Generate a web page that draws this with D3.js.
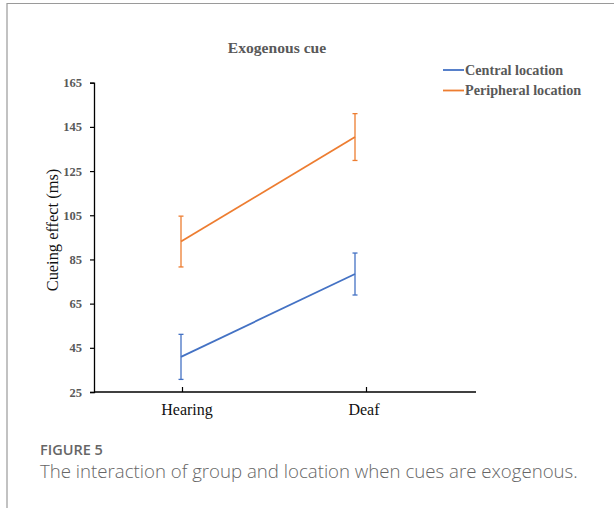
<!DOCTYPE html>
<html>
<head>
<meta charset="utf-8">
<script src="https://cdn.jsdelivr.net/npm/d3@7"></script>
<style>
  body { margin: 0; background: #fff; }
  svg { display: block; }
</style>
</head>
<body>
<svg id="chart" width="614" height="508"></svg>
<script>
// données (moyennes et erreurs, en ms)
var groups = ["Hearing", "Deaf"];
var seriesNames = ["Central location", "Peripheral location"];
var centralMean = [40.9, 78.4];
var centralErr = [10.2, 9.5];
var peripheralMean = [93.1, 140.4];
var peripheralErr = [11.5, 10.6];
var yTicks = [25, 45, 65, 85, 105, 125, 145, 165];

var colors = ["#4472C4", "#ED7D31"];

var svg = d3.select("#chart");

// cadre gris (haut + gauche)
svg.append("path")
  .attr("d", "M7,508V3.5H614")
  .attr("fill", "none")
  .attr("stroke", "#9a9a9a")
  .attr("stroke-width", 1.2);

// échelles
var y = d3.scaleLinear().domain([25, 165]).range([392, 82.7]);
var x = d3.scalePoint().domain(groups).range([181, 355]);
// l'axe des catégories d'Excel n'est pas aligné avec les points
var xTick = d3.scalePoint().domain(groups).range([182, 366]);

var plot = svg.append("g");

// axe Y
var yAxis = d3.axisLeft(y).tickValues(yTicks).tickSize(4).tickPadding(8);
var gy = plot.append("g")
  .attr("transform", "translate(94,0)")
  .call(yAxis);
gy.select(".domain").attr("stroke", "#000").attr("stroke-width", 1.3);
gy.selectAll(".tick line").attr("stroke", "#000").attr("stroke-width", 1.2);
gy.selectAll("text")
  .attr("font-family", "'Liberation Serif', 'Times New Roman', serif")
  .attr("font-size", 12.5)
  .attr("font-weight", "bold")
  .attr("fill", "#595959");

// axe X
var xAxis = d3.axisBottom(xTick).tickSize(-5).tickSizeOuter(0).tickFormat("");
var gx = plot.append("g")
  .attr("transform", "translate(0,392)")
  .call(xAxis);
gx.select(".domain").remove();
gx.selectAll(".tick line").attr("stroke", "#000").attr("stroke-width", 1.2);
gx.append("line")
  .attr("x1", 94).attr("x2", 476)
  .attr("stroke", "#000").attr("stroke-width", 1.6);

plot.selectAll(".xlab")
  .data(groups)
  .enter()
  .append("text")
  .attr("class", "xlab")
  .attr("x", function(d, i) { return xTick(d) + (i == 0 ? 5 : -2); })
  .attr("y", 415)
  .attr("text-anchor", "middle")
  .attr("font-family", "'Liberation Serif', 'Times New Roman', serif")
  .attr("font-size", 16)
  .attr("fill", "#111")
  .text(function(d) { return d; });

// titre de l'axe Y
svg.append("text")
  .attr("transform", "translate(58,230) rotate(-90)")
  .attr("text-anchor", "middle")
  .attr("font-family", "'Liberation Serif', 'Times New Roman', serif")
  .attr("font-size", 16.4)
  .attr("fill", "#111")
  .text("Cueing effect (ms)");

// titre
svg.append("text")
  .attr("x", 277)
  .attr("y", 53)
  .attr("text-anchor", "middle")
  .attr("font-family", "'Liberation Serif', 'Times New Roman', serif")
  .attr("font-size", 15.6)
  .attr("font-weight", "bold")
  .attr("fill", "#595959")
  .text("Exogenous cue");

// séries
var series = [
  { name: seriesNames[0], mean: centralMean, err: centralErr, color: colors[0] },
  { name: seriesNames[1], mean: peripheralMean, err: peripheralErr, color: colors[1] }
];

var line = d3.line()
  .x(function(d) { return x(d.g); })
  .y(function(d) { return y(d.v); });

series.forEach(function(s) {
  var pts = groups.map(function(g, i) { return { g: g, v: s.mean[i], e: s.err[i] }; });

  plot.append("path")
    .datum(pts)
    .attr("d", line)
    .attr("fill", "none")
    .attr("stroke", s.color)
    .attr("stroke-width", 1.8);

  var eb = plot.selectAll(null)
    .data(pts)
    .enter()
    .append("g")
    .attr("stroke", s.color)
    .attr("stroke-width", 1.3);
  eb.append("line")
    .attr("x1", function(d) { return x(d.g); })
    .attr("x2", function(d) { return x(d.g); })
    .attr("y1", function(d) { return y(d.v - d.e); })
    .attr("y2", function(d) { return y(d.v + d.e); });
  eb.append("line")
    .attr("x1", function(d) { return x(d.g) - 2.5; })
    .attr("x2", function(d) { return x(d.g) + 2.5; })
    .attr("y1", function(d) { return y(d.v + d.e); })
    .attr("y2", function(d) { return y(d.v + d.e); });
  eb.append("line")
    .attr("x1", function(d) { return x(d.g) - 2.5; })
    .attr("x2", function(d) { return x(d.g) + 2.5; })
    .attr("y1", function(d) { return y(d.v - d.e); })
    .attr("y2", function(d) { return y(d.v - d.e); });
});

// légende
var legend = svg.selectAll(".leg")
  .data(series)
  .enter()
  .append("g")
  .attr("class", "leg")
  .attr("transform", function(d, i) { return "translate(443," + (70 + i * 20.5) + ")"; });
legend.append("line")
  .attr("x1", 0).attr("x2", 21)
  .attr("stroke", function(d) { return d.color; })
  .attr("stroke-width", 1.8);
legend.append("text")
  .attr("x", 22)
  .attr("y", 4.5)
  .attr("font-family", "'Liberation Serif', 'Times New Roman', serif")
  .attr("font-size", 14.2)
  .attr("font-weight", "bold")
  .attr("fill", "#595959")
  .text(function(d) { return d.name; });

// légende de la figure
svg.append("text")
  .attr("x", 40)
  .attr("y", 455)
  .attr("font-family", "'Open Sans', sans-serif")
  .attr("font-size", 14.5)
  .attr("font-weight", 600)
  .attr("fill", "#666")
  .text("FIGURE 5");

var cap = svg.append("text")
  .attr("x", 40)
  .attr("y", 478)
  .attr("font-family", "'Open Sans', sans-serif")
  .attr("font-size", 18)
  .attr("font-weight", 300)
  .attr("fill", "#666")
  .text("The interaction of group and location when cues are exogenous.");
// ajuste la taille pour retrouver la largeur de la figure d'origine
var w = cap.node().getComputedTextLength();
cap.attr("font-size", 18 * 538 / w);
</script>
</body>
</html>
